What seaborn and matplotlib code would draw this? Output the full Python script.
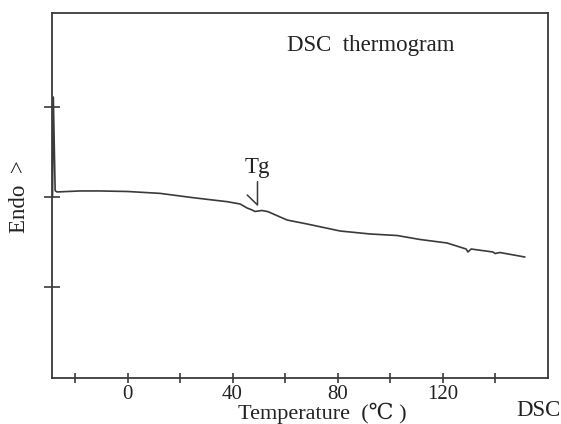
import matplotlib
matplotlib.use("Agg")
import matplotlib.pyplot as plt
import seaborn as sns
import pandas as pd

# Data (temperature in °C, heat flow in arbitrary units)
temperature = [-28.6, -28.3, -27.6, -26.9, -18.1, -10.5, 0.0, 12.4, 25.0, 37.9,
               42.9, 45.5, 47.4, 48.6, 51.2, 53.5, 58.1, 60.8, 68.4, 81.0,
               92.4, 102.7, 111.4, 121.7, 129.0, 129.7, 130.9, 139.2, 140.0,
               141.9, 151.4]
heat_flow = [0.0, 1.11, 0.07, 0.056, 0.067, 0.067, 0.061, 0.04, -0.008, -0.052,
             -0.078, -0.122, -0.144, -0.161, -0.15, -0.163, -0.222, -0.256, -0.30, -0.378,
             -0.411, -0.428, -0.472, -0.511, -0.578, -0.611, -0.578, -0.611, -0.628,
             -0.617, -0.667]
x_ticks = [-20, 0, 20, 40, 60, 80, 100, 120, 140]
x_ticklabels = ["", "0", "", "40", "", "80", "", "120", ""]
y_ticks = [-1, 0, 1]

sns.set_style("ticks")
plt.rcParams['font.family'] = ['Liberation Serif', 'DejaVu Serif']
FS = 16.5
ink = "#3a3a3a"
txt = "#222222"

df = pd.DataFrame({"T": temperature, "H": heat_flow})

fig = plt.figure(figsize=(5.61, 4.24), dpi=100)
ax = fig.add_axes([52/561, 1 - 378/424, 496/561, 365/424])
sns.lineplot(data=df, x="T", y="H", ax=ax, color=ink, linewidth=1.2, sort=False)

ax.set_xlim(-28.8, 160.2)
ax.set_ylim(-2.011, 2.044)
ax.set_xticks(x_ticks)
ax.set_xticklabels(x_ticklabels, fontsize=15, color=txt)
ax.set_yticks(y_ticks)
ax.set_yticklabels([])
ax.tick_params(axis="x", direction="inout", length=7, width=1.2, color=ink, pad=1.5)
ax.tick_params(axis="y", direction="inout", length=11, width=1.2, color=ink)
for s in ax.spines.values():
    s.set_color(ink)
    s.set_linewidth(1.3)

ax.set_xlabel("")
fig.text(322/561, 1 - 413/424, "Temperature  (℃ )", fontsize=16, color=txt,
         ha="center", va="center")
ax.set_ylabel("Endo  >", fontsize=FS, color=txt)
ax.yaxis.set_label_coords(-0.045, 0.496)

ax.text(0.474, 0.912, "DSC  thermogram", transform=ax.transAxes, fontsize=FS,
        ha="left", va="center", color=txt)
# Tg marker
ax.text(49.5, 0.33, "Tg", fontsize=FS, ha="center", va="center", color=txt)
ax.plot([45.6, 49.5, 49.5], [0.022, -0.089, 0.17], color=ink, linewidth=1.1)

fig.text(538/561, 1 - 410/424, "DSC", fontsize=FS, ha="center", va="center", color=txt)

fig.savefig("out.png", dpi=100, facecolor="white")
